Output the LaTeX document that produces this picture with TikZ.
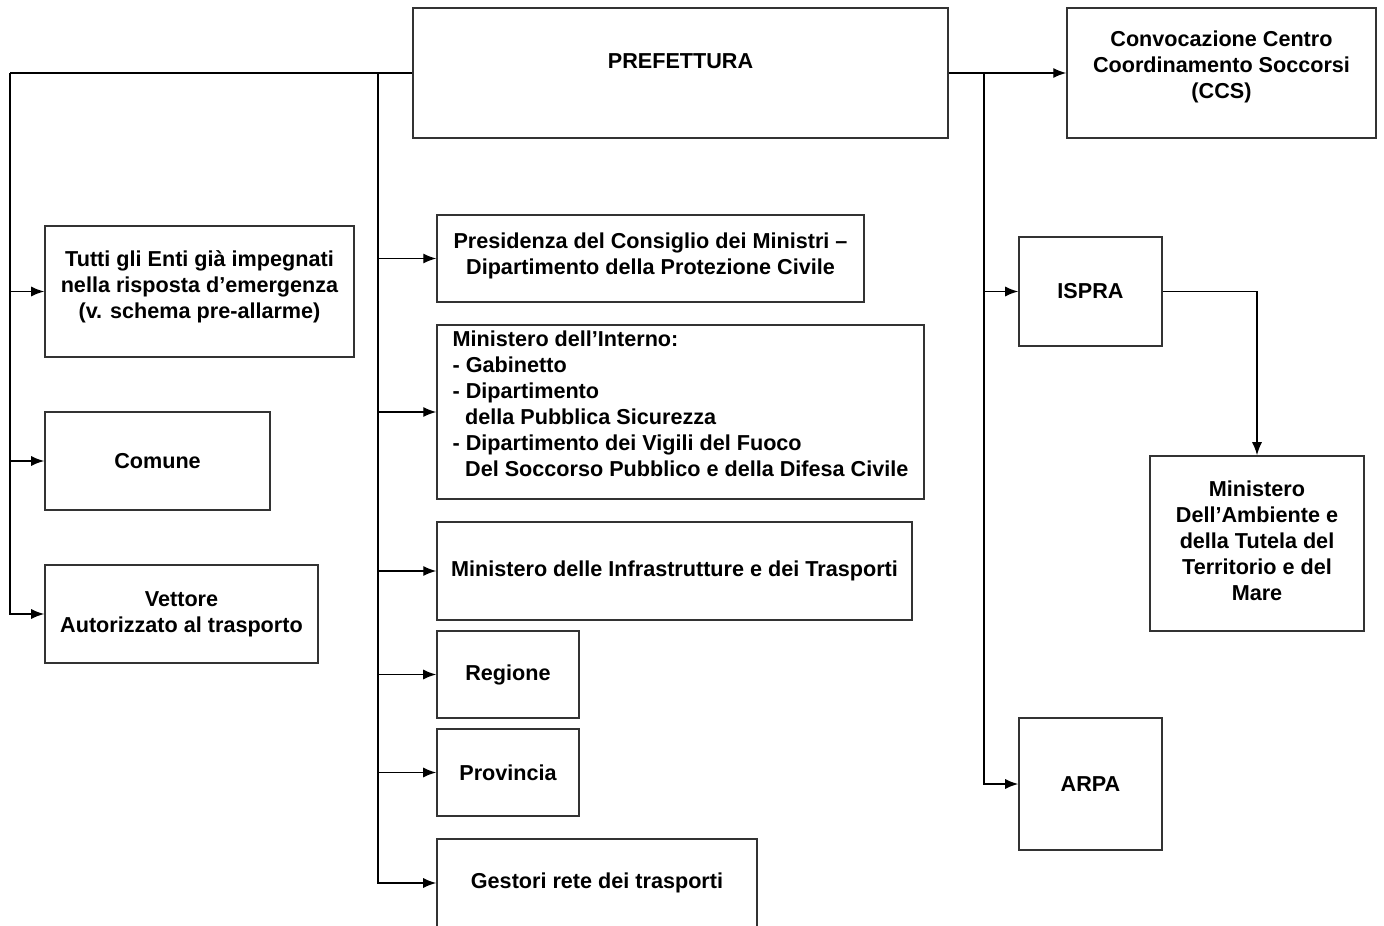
\documentclass[tikz,border=0pt]{standalone}
\usepackage{fontspec}
\setmainfont{Liberation Sans}
\usetikzlibrary{arrows.meta,positioning}

\begin{document}
\begin{tikzpicture}[
    x=0.02cm, y=-0.02cm,
    box/.style={rectangle, draw=black!80, line width=0.9pt, align=center, inner sep=0pt,
        font=\bfseries\fontsize{12.3}{14.8}\selectfont},
    lift/.style={text depth=#1},
    arrow/.style={-{Latex[length=2.6mm,width=2mm]}, line width=0.8pt}
]
\useasboundingbox (0,0) rectangle (1384,926);

% Prefettura and CCS
\node[box, minimum width=10.7cm, minimum height=2.6cm, lift=0.46cm] (pref) at (680.5,73) {PREFETTURA};
\node[box, minimum width=6.18cm, minimum height=2.6cm, lift=0.32cm] (ccs) at (1221.5,73) {Convocazione Centro\\Coordinamento Soccorsi\\(CCS)};

% Left column
\node[box, minimum width=6.18cm, minimum height=2.62cm, lift=0.26cm] (tutti) at (199.5,291.5) {Tutti gli Enti già impegnati\\nella risposta d’emergenza\\(v. schema pre-allarme)};
\node[box, minimum width=4.5cm, minimum height=1.96cm] (comune) at (157.5,461) {Comune};
\node[box, minimum width=5.46cm, minimum height=1.96cm] (vettore) at (181.5,614) {Vettore\\Autorizzato al trasporto};

% Middle column
\node[box, minimum width=8.54cm, minimum height=1.74cm, lift=0.18cm] (pres) at (650.5,258.5) {Presidenza del Consiglio dei Ministri –\\Dipartimento della Protezione Civile};
\node[box, align=left, minimum width=9.74cm, minimum height=3.48cm, lift=0.34cm] (interno) at (680.5,412) {Ministero dell’Interno:\\- Gabinetto\\- Dipartimento\\\hspace*{0.25cm}della Pubblica Sicurezza\\- Dipartimento dei Vigili del Fuoco\\\hspace*{0.25cm}Del Soccorso Pubblico e della Difesa Civile};
\node[box, minimum width=9.5cm, minimum height=1.96cm] (mit) at (674.5,571) {Ministero delle Infrastrutture e dei Trasporti};
\node[box, minimum width=2.84cm, minimum height=1.74cm] (regione) at (508,674.5) {Regione};
\node[box, minimum width=2.84cm, minimum height=1.74cm] (provincia) at (508,772.5) {Provincia};
\node[box, minimum width=6.4cm, minimum height=1.76cm] (gestori) at (597,883) {Gestori rete dei trasporti};

% Right column
\node[box, minimum width=2.86cm, minimum height=2.18cm] (ispra) at (1090.5,291.5) {ISPRA};
\node[box, minimum width=4.28cm, minimum height=3.5cm, lift=0.1cm] (ambiente) at (1257,543.5) {Ministero\\Dell’Ambiente e\\della Tutela del\\Territorio e del\\Mare};
\node[box, minimum width=2.86cm, minimum height=2.64cm] (arpa) at (1090.5,784) {ARPA};

% Bus lines
\coordinate (lbus) at (10,73);
\coordinate (mbus) at (378,73);
\coordinate (rbus) at (984,73);

% Arrows
\draw[line width=0.8pt] (pref.west) -- (lbus);
\draw[arrow] (lbus) |- (tutti);
\draw[arrow] (lbus) |- (comune);
\draw[arrow] (lbus) |- (vettore);
\draw[arrow] (mbus) |- (pres);
\draw[arrow] (mbus) |- (interno);
\draw[arrow] (mbus) |- (mit);
\draw[arrow] (mbus) |- (regione);
\draw[arrow] (mbus) |- (provincia);
\draw[arrow] (mbus) |- (gestori);
\draw[arrow] (pref.east) -- (ccs);
\draw[arrow] (rbus) |- (ispra);
\draw[arrow] (rbus) |- (arpa);
\draw[arrow] (ispra.east) -| (ambiente.north);

\end{tikzpicture}
\end{document}
